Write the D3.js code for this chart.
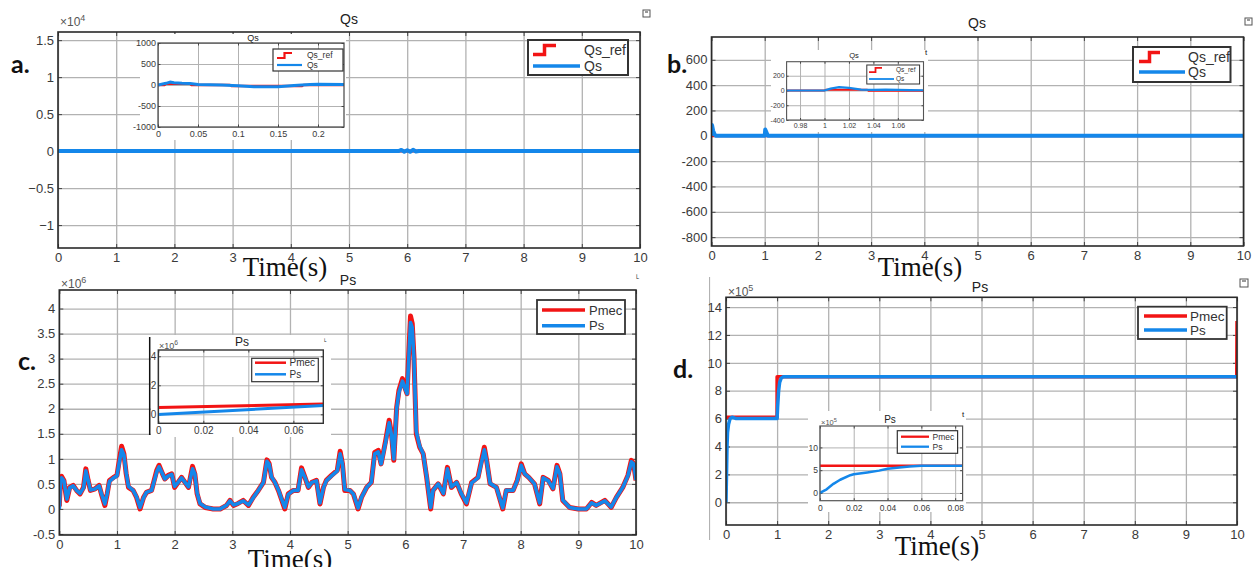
<!DOCTYPE html>
<html lang="en">
<head>
<meta charset="UTF-8">
<title>Qs / Ps</title>
<script src="https://cdnjs.cloudflare.com/ajax/libs/d3/7.8.5/d3.min.js"></script>
<style>
  body { margin: 0; background: #fff; overflow: hidden; }
  svg text { font-family: "Liberation Sans", Arial, sans-serif; }
</style>
</head>
<body>
<script>
// ---------- data ----------
const timeTicks = [0, 1, 2, 3, 4, 5, 6, 7, 8, 9, 10];

// a. Qs (main)
const qsA_t    = [0, 5.85, 5.9, 5.95, 6.0, 6.05, 6.1, 6.15, 6.2, 10];
const qsA      = [0, 0, 150, -80, 120, -100, 180, -60, 0, 0];
const qsRefA_t = [0, 10];
const qsRefA   = [0, 0];
const yTicksA  = [-10000, -5000, 0, 5000, 10000, 15000];
// a. inset
const qsInA_t    = [0, 0.01, 0.015, 0.02, 0.03, 0.04, 0.05, 0.08, 0.1, 0.12, 0.15, 0.17, 0.19, 0.2, 0.2325];
const qsInA      = [0, 40, 70, 55, 40, 35, 10, 0, -20, -40, -40, -10, 10, 20, 10];
const qsRefInA_t = [0, 0.008, 0.01, 0.04, 0.042, 0.09, 0.092, 0.18, 0.182, 0.2325];
const qsRefInA   = [0, 0, 30, 30, 0, 0, -25, -25, 0, 0];
const xTicksInA  = [0, 0.05, 0.1, 0.15, 0.2];
const yTicksInA  = [-1000, -500, 0, 500, 1000];

// b. Qs (main)
const qsB_t    = [0, 0.01, 0.03, 0.06, 0.08, 0.99, 1.0, 1.01, 1.03, 1.06, 10];
const qsB      = [0, 85, 40, 10, 0, 0, 0, 50, 30, 0, 0];
const qsRefB_t = [0, 10];
const qsRefB   = [0, 0];
const yTicksB  = [-800, -600, -400, -200, 0, 200, 400, 600];
// b. inset
const qsInB_t    = [0.969, 1.0, 1.005, 1.012, 1.02, 1.03, 1.04, 1.05, 1.06, 1.07, 1.081];
const qsInB      = [0, 0, 25, 45, 35, 12, 8, 12, 8, 5, 3];
const qsRefInB_t = [0.969, 1.0, 1.001, 1.035, 1.036, 1.081];
const qsRefInB   = [0, 0, 10, 10, -5, -5];
const xTicksInB  = [0.98, 1, 1.02, 1.04, 1.06];
const yTicksInB  = [-400, -200, 0, 200];

// c. Ps (main), values x1e6
const psC_t = [0, 0.02, 0.04, 0.08, 0.13, 0.18, 0.24, 0.3, 0.36, 0.42, 0.46, 0.5, 0.54, 0.62, 0.69, 0.73, 0.79, 0.83, 0.87, 0.94,
  1.0, 1.04, 1.08, 1.12, 1.16, 1.2, 1.28, 1.34, 1.4, 1.46, 1.51, 1.6, 1.69, 1.73, 1.79, 1.83, 1.89, 1.95,
  2.0, 2.06, 2.12, 2.18, 2.24, 2.31, 2.35, 2.39, 2.44, 2.53, 2.67, 2.79, 2.9, 2.96,
  3.02, 3.1, 3.19, 3.28, 3.36, 3.45, 3.54, 3.6, 3.64, 3.68, 3.74, 3.8, 3.86, 3.91, 3.97,
  4.06, 4.14, 4.2, 4.26, 4.32, 4.38, 4.46, 4.52, 4.58, 4.63, 4.72, 4.82, 4.87, 4.91, 4.95,
  5.04, 5.1, 5.18, 5.24, 5.33, 5.41, 5.47, 5.53, 5.58, 5.62, 5.66, 5.72, 5.76, 5.8, 5.85, 5.89, 5.95, 5.99,
  6.03, 6.06, 6.09, 6.12, 6.15, 6.19, 6.25, 6.31, 6.37, 6.44, 6.48, 6.57, 6.66, 6.73, 6.8, 6.89, 6.97,
  7.06, 7.15, 7.26, 7.37, 7.41, 7.47, 7.58, 7.69, 7.75, 7.87, 7.94,
  8.01, 8.07, 8.14, 8.24, 8.33, 8.39, 8.48, 8.56, 8.63, 8.68, 8.73, 8.85,
  9.0, 9.14, 9.23, 9.31, 9.46, 9.57, 9.66, 9.77, 9.86, 9.92, 9.96, 10.0];
const pmecC = [0.05, 0.6, 0.65, 0.57, 0.17, 0.43, 0.47, 0.37, 0.3, 0.43, 0.8, 0.57, 0.37, 0.4, 0.47, 0.3, 0.07, 0.3, 0.57, 0.63,
  0.67, 0.97, 1.25, 1.1, 0.7, 0.43, 0.37, 0.23, 0.0, 0.23, 0.33, 0.37, 0.77, 0.87, 0.7, 0.6, 0.67, 0.7,
  0.43, 0.53, 0.63, 0.53, 0.43, 0.85, 0.7, 0.3, 0.1, 0.03, 0.0, 0.0, 0.07, 0.17,
  0.07, 0.11, 0.17, 0.07, 0.23, 0.37, 0.53, 0.98, 0.9, 0.63, 0.53, 0.37, 0.17, 0.0, 0.3,
  0.37, 0.37, 0.82, 0.63, 0.43, 0.53, 0.57, 0.1, 0.43, 0.57, 0.67, 0.77, 1.15, 0.9, 0.37,
  0.37, 0.3, 0.0, 0.23, 0.43, 0.53, 1.13, 1.17, 0.9, 1.13, 1.37, 1.77, 1.5, 0.97, 2.03, 2.37, 2.6, 2.43,
  2.3, 3.1, 3.85, 3.7, 3.03, 1.5, 1.23, 1.1, 0.63, 0.0, 0.37, 0.5, 0.3, 0.83, 0.43, 0.53, 0.3,
  0.1, 0.53, 0.63, 1.23, 0.97, 0.5, 0.43, 0.0, 0.37, 0.37, 0.57,
  0.9, 0.7, 0.63, 0.5, 0.1, 0.63, 0.57, 0.4, 0.87, 0.7, 0.17, 0.03,
  0.0, 0.0, 0.13, 0.07, 0.17, 0.03, 0.23, 0.43, 0.67, 0.97, 0.9, 0.57];
const psC = [0.0, 0.55, 0.62, 0.56, 0.2, 0.42, 0.46, 0.37, 0.31, 0.42, 0.76, 0.57, 0.38, 0.4, 0.46, 0.31, 0.1, 0.3, 0.55, 0.62,
  0.66, 0.93, 1.18, 1.08, 0.72, 0.45, 0.37, 0.24, 0.03, 0.22, 0.33, 0.37, 0.74, 0.84, 0.7, 0.6, 0.66, 0.69,
  0.45, 0.53, 0.62, 0.53, 0.44, 0.8, 0.7, 0.32, 0.11, 0.04, 0.0, 0.0, 0.07, 0.16,
  0.08, 0.11, 0.16, 0.08, 0.22, 0.37, 0.53, 0.95, 0.89, 0.64, 0.53, 0.38, 0.18, 0.03, 0.29,
  0.37, 0.37, 0.78, 0.63, 0.44, 0.53, 0.56, 0.12, 0.42, 0.56, 0.66, 0.76, 1.1, 0.9, 0.39,
  0.37, 0.3, 0.02, 0.23, 0.43, 0.53, 1.1, 1.14, 0.9, 1.12, 1.34, 1.72, 1.48, 1.0, 2.0, 2.33, 2.55, 2.42,
  2.3, 3.0, 3.72, 3.62, 3.0, 1.55, 1.25, 1.1, 0.65, 0.03, 0.37, 0.5, 0.31, 0.8, 0.44, 0.53, 0.31,
  0.12, 0.52, 0.62, 1.18, 0.96, 0.51, 0.43, 0.02, 0.37, 0.37, 0.56,
  0.87, 0.7, 0.63, 0.5, 0.12, 0.62, 0.56, 0.41, 0.84, 0.7, 0.18, 0.03,
  0.0, 0.0, 0.12, 0.07, 0.16, 0.04, 0.23, 0.43, 0.66, 0.94, 0.9, 0.58];
const yTicksC = [-0.5, 0, 0.5, 1, 1.5, 2, 2.5, 3, 3.5, 4];
// c. inset, x1e6
const pmecInC_t = [0, 0.0733];
const pmecInC   = [0.46, 0.71];
const psInC_t   = [0, 0.0733];
const psInC     = [-0.02, 0.6];
const xTicksInC = [0, 0.02, 0.04, 0.06];
const yTicksInC = [0, 2, 4];

// d. Ps (main), values x1e5
const pmecD_t = [0, 0.999, 1.0, 9.995, 10];
const pmecD   = [6.1, 6.1, 9.0, 9.0, 13.0];
const psD_t   = [0, 0.01, 0.02, 0.03, 0.05, 0.08, 0.12, 0.2, 1.0, 1.01, 1.03, 1.05, 1.08, 1.12, 1.2, 10];
const psD     = [0, 2, 4, 5, 5.6, 6.0, 6.1, 6.0, 6.0, 6.8, 8.0, 8.6, 8.9, 9.0, 9.0, 9.0];
const yTicksD = [0, 2, 4, 6, 8, 10, 12, 14];
// d. inset, x1e5
const pmecInD_t = [0, 0.0844];
const pmecInD   = [6, 6];
const psInD_t   = [0, 0.004, 0.008, 0.012, 0.018, 0.02, 0.028, 0.035, 0.04, 0.047, 0.053, 0.06, 0.07, 0.0844];
const psInD     = [0, 0.8, 2.0, 2.9, 3.9, 4.1, 4.5, 4.9, 5.3, 5.6, 5.8, 5.95, 6.0, 6.0];
const xTicksInD = [0, 0.02, 0.04, 0.06, 0.08];
const yTicksInD = [0, 5, 10];

const RED = "#f21414", BLUE = "#1487ea";

// ---------- drawing ----------
const svg = d3.select("body").append("svg").attr("width", 1253).attr("height", 567);
let clipN = 0;

// box = [x0, y0, x1, y1]
function axes(box, xDom, yDom, xTicks, yTicks, o) {
  const w = box[2] - box[0], h = box[3] - box[1];
  const x = d3.scaleLinear().domain(xDom).range([box[0], box[2]]);
  const y = d3.scaleLinear().domain(yDom).range([box[3], box[1]]);
  const g = svg.append("g");
  if (o.bg) g.append("rect").attr("x", o.bg[0]).attr("y", o.bg[1])
    .attr("width", o.bg[2] - o.bg[0]).attr("height", o.bg[3] - o.bg[1]).attr("fill", "#fff");
  g.append("rect").attr("x", box[0]).attr("y", box[1]).attr("width", w).attr("height", h).attr("fill", "#fff");

  const gx = g.append("g").attr("transform", `translate(0,${box[3]})`)
    .call(d3.axisBottom(x).tickValues(xTicks).tickSize(-h).tickPadding(o.padX).tickFormat(o.fmtX || (d => d)));
  const gy = g.append("g").attr("transform", `translate(${box[0]},0)`)
    .call(d3.axisLeft(y).tickValues(yTicks).tickSize(-w).tickPadding(o.padY).tickFormat(o.fmtY || (d => d)));
  [gx, gy].forEach(a => {
    a.select(".domain").remove();
    a.selectAll("line").attr("stroke", "#b2b2b2").attr("stroke-width", o.grid);
    a.selectAll("text").attr("fill", "#3a3a3a").style("font-size", o.fs + "px");
  });

  // small inward ticks on all four sides
  const t = o.tick;
  [[d3.axisBottom(x).tickValues(xTicks), `translate(0,${box[3]})`],
   [d3.axisTop(x).tickValues(xTicks), `translate(0,${box[1]})`],
   [d3.axisLeft(y).tickValues(yTicks), `translate(${box[0]},0)`],
   [d3.axisRight(y).tickValues(yTicks), `translate(${box[2]},0)`]].forEach(([ax, tr]) => {
    const a = g.append("g").attr("transform", tr).call(ax.tickSize(-t).tickFormat(""));
    a.select(".domain").remove();
    a.selectAll("line").attr("stroke", "#444").attr("stroke-width", 1);
  });

  const id = "clip" + (clipN++);
  g.append("clipPath").attr("id", id).append("rect")
    .attr("x", box[0]).attr("y", box[1]).attr("width", w).attr("height", h);
  const plot = g.append("g").attr("clip-path", `url(#${id})`);
  g.append("rect").attr("x", box[0]).attr("y", box[1]).attr("width", w).attr("height", h)
    .attr("fill", "none").attr("stroke", o.frame || "#2a2a2a").attr("stroke-width", o.frameW || 1.6);

  if (o.title) g.append("text").attr("x", o.title[0]).attr("y", o.title[1]).attr("text-anchor", "middle")
    .attr("fill", "#222").style("font-size", o.title[3] + "px").text(o.title[2]);
  if (o.exp) {
    const e = g.append("text").attr("x", o.exp[0]).attr("y", o.exp[1]).attr("fill", "#555")
      .style("font-size", o.exp[3] + "px").text("\u00d710");
    e.append("tspan").attr("dy", -o.exp[3] * 0.4).style("font-size", (o.exp[3] * 0.75) + "px").text(o.exp[2]);
  }
  return { g, plot, x, y };
}

function series(ax, t, v, color, width) {
  ax.plot.append("path").datum(d3.zip(t, v))
    .attr("d", d3.line().x(d => ax.x(d[0])).y(d => ax.y(d[1])))
    .attr("fill", "none").attr("stroke", color).attr("stroke-width", width)
    .attr("stroke-linejoin", "round");
}

// box [x0,y0,x1,y1], rows: [{y, label, color, step}], lx: [start, end], tx: text x
function legend(box, rows, lx, tx, fs, lw, bw) {
  const g = svg.append("g");
  g.append("rect").attr("x", box[0]).attr("y", box[1]).attr("width", box[2] - box[0]).attr("height", box[3] - box[1])
    .attr("fill", "#fff").attr("stroke", "#333").attr("stroke-width", bw);
  rows.forEach(r => {
    if (r.step) {
      const m = (lx[0] + lx[1]) / 2, s = r.step;
      g.append("path").attr("d", `M${lx[0]},${r.y + s} H${m} V${r.y - s} H${lx[1]}`)
        .attr("fill", "none").attr("stroke", r.color).attr("stroke-width", lw);
    } else {
      g.append("line").attr("x1", lx[0]).attr("x2", r.x1 || lx[1]).attr("y1", r.y).attr("y2", r.y)
        .attr("stroke", r.color).attr("stroke-width", lw);
    }
    g.append("text").attr("x", tx).attr("y", r.y).attr("dy", "0.35em").attr("fill", "#333")
      .style("font-size", fs + "px").text(r.label);
  });
}

function icon(x, y, s) {
  svg.append("rect").attr("x", x).attr("y", y).attr("width", s).attr("height", s)
    .attr("fill", "none").attr("stroke", "#555").attr("stroke-width", 1);
  svg.append("line").attr("x1", x + 2).attr("x2", x + s - 2).attr("y1", y + 2).attr("y2", y + 2)
    .attr("stroke", "#555").attr("stroke-width", 1.2);
}

function label(x, y, txt, fs, fam, weight, anchor) {
  svg.append("text").attr("x", x).attr("y", y).attr("text-anchor", anchor || "start")
    .style("font-family", fam).style("font-weight", weight).style("font-size", fs + "px")
    .attr("fill", "#111").text(txt);
}

const mainOpt = { padX: 5, padY: 4, fs: 13, grid: 1.3, tick: 4 };

// ---------- panel a ----------
const fmt4 = d => d3.format("~g")(d / 1e4);
const A = axes([58, 32, 640, 248], [0, 10], [-13100, 16100], timeTicks, yTicksA,
  Object.assign({}, mainOpt, { fmtY: fmt4, title: [349, 24, "Qs", 14], exp: [60, 26, "4", 12] }));
series(A, qsRefA_t, qsRefA, RED, 3);
series(A, qsA_t, qsA, BLUE, 4);
legend([528, 40, 628, 75],
  [{ y: 50, label: "Qs_ref", color: RED, step: 4.5 }, { y: 66, label: "Qs", color: BLUE, x1: 580 }],
  [533, 556], 584, 14, 3.5, 2);
icon(643, 10, 7);

const Ai = axes([158, 43, 344, 127], [0, 0.2325], [-1000, 1000], xTicksInA, yTicksInA,
  { padX: 4, padY: 2, fs: 9, grid: 1, tick: 2.5, frameW: 1.2, frame: "#444",
    bg: [140, 34, 346, 140], title: [253, 41, "Qs", 9] });
series(Ai, qsRefInA_t, qsRefInA, RED, 2.5);
series(Ai, qsInA_t, qsInA, BLUE, 3);
legend([273, 49, 343, 71],
  [{ y: 55.5, label: "Qs_ref", color: RED, step: 2.5 }, { y: 65, label: "Qs", color: BLUE, x1: 302 }],
  [277, 292], 307, 8.5, 2.2, 1.2);

// ---------- panel b ----------
const B = axes([711.5, 37, 1243.5, 246], [0, 10], [-870, 780], timeTicks, yTicksB,
  Object.assign({}, mainOpt, { title: [977, 28, "Qs", 14] }));
series(B, qsRefB_t, qsRefB, RED, 3);
series(B, qsB_t, qsB, BLUE, 4);
legend([1133, 47, 1230.5, 82],
  [{ y: 57, label: "Qs_ref", color: RED, step: 4.5 }, { y: 72, label: "Qs", color: BLUE, x1: 1185 }],
  [1139, 1160], 1188, 14, 3.5, 2);
icon(1245, 18, 7);

const Bi = axes([786.6, 61.7, 923.5, 120], [0.969, 1.081], [-400, 390], xTicksInB, yTicksInB,
  { padX: 3, padY: 2, fs: 7, grid: 1, tick: 2, frameW: 1.1, frame: "#555",
    bg: [771, 50, 928, 132], title: [854, 58, "Qs", 7.5] });
series(Bi, qsRefInB_t, qsRefInB, RED, 2);
series(Bi, qsInB_t, qsInB, BLUE, 2.2);
legend([866.8, 65, 919.6, 84],
  [{ y: 70, label: "Qs_ref", color: RED, step: 2.2 }, { y: 79, label: "Qs", color: BLUE, x1: 894 }],
  [869, 882], 896, 6.5, 1.8, 1);
label(925, 55, "t", 8, "Liberation Sans", "normal");

// ---------- panel c ----------
const C = axes([59.3, 290, 636, 535], [0, 10], [-0.52, 4.37], timeTicks, yTicksC,
  Object.assign({}, mainOpt, { title: [348, 285, "Ps", 14], exp: [61, 288, "6", 12] }));
series(C, psC_t, pmecC, RED, 5);
series(C, psC_t, psC, BLUE, 3.6);
legend([537, 300, 625, 334],
  [{ y: 310, label: "Pmec", color: RED }, { y: 325.7, label: "Ps", color: BLUE }],
  [542, 585], 589, 13, 3.5, 1.8);
label(636, 279, "\u02ea", 10, "DejaVu Sans", "normal");

svg.append("line").attr("x1", 149.7).attr("x2", 149.7).attr("y1", 337).attr("y2", 435)
  .attr("stroke", "#111").attr("stroke-width", 1.5);
const Ci = axes([158.3, 350, 323.3, 423.3], [0, 0.0733], [-0.62, 4.43], xTicksInC, yTicksInC,
  { padX: 4, padY: 2, fs: 10, grid: 1, tick: 2.5, frameW: 1.4, frame: "#333",
    bg: [151, 335, 331, 437], title: [242, 346, "Ps", 12], exp: [159, 349, "6", 9] });
series(Ci, pmecInC_t, pmecInC, RED, 3);
series(Ci, psInC_t, psInC, BLUE, 3);
legend([251.7, 358.3, 318.3, 381.7],
  [{ y: 362.7, label: "Pmec", color: RED }, { y: 374.3, label: "Ps", color: BLUE }],
  [255, 286], 289.5, 10, 2.5, 1.2);
label(324, 342, "\u02ea", 8, "DejaVu Sans", "normal");

// ---------- panel d ----------
svg.append("line").attr("x1", 709.6).attr("x2", 709.6).attr("y1", 277).attr("y2", 540)
  .attr("stroke", "#aaa").attr("stroke-width", 1);
const D = axes([726, 297.3, 1237, 525], [0, 10], [-1.63, 14.7], timeTicks, yTicksD,
  Object.assign({}, mainOpt, { title: [980, 292, "Ps", 14], exp: [728, 296, "5", 12] }));
series(D, pmecD_t, pmecD, RED, 3.5);
series(D, psD_t, psD, BLUE, 3.5);
legend([1138, 306.7, 1226.7, 339],
  [{ y: 316, label: "Pmec", color: RED }, { y: 330, label: "Ps", color: BLUE }],
  [1144, 1187], 1190, 13.5, 3.5, 1.8);
icon(1240, 279, 8);

const Di = axes([819.9, 426, 962.6, 500.7], [0, 0.0844], [-1.7, 14.7], xTicksInD, yTicksInD,
  { padX: 4, padY: 2, fs: 8.5, grid: 1, tick: 2.5, frameW: 1.2, frame: "#555",
    bg: [808, 411, 966, 512], title: [890, 423, "Ps", 10], exp: [821, 425, "5", 7.5] });
series(Di, pmecInD_t, pmecInD, RED, 2.5);
series(Di, psInD_t, psInD, BLUE, 2.5);
legend([897.3, 430.7, 957.6, 453.3],
  [{ y: 436.7, label: "Pmec", color: RED }, { y: 446.7, label: "Ps", color: BLUE }],
  [901, 929], 932.5, 8.5, 2.3, 1.2);
label(962, 417, "t", 8, "Liberation Sans", "normal");

// ---------- panel letters and time labels ----------
const bold = "Lato, 'Open Sans', sans-serif";
label(11, 73, "a.", 25, bold, "bold");
label(667, 73, "b.", 25, bold, "bold");
label(18, 370, "c.", 25, bold, "bold");
label(673, 378, "d.", 25, bold, "bold");

const serif = "'Liberation Serif', 'DejaVu Serif', serif";
label(285, 276, "Time(s)", 27, serif, "normal", "middle");
label(920, 276, "Time(s)", 27, serif, "normal", "middle");
label(290, 568, "Time(s)", 27, serif, "normal", "middle");
label(937, 555, "Time(s)", 27, serif, "normal", "middle");
</script>
</body>
</html>
